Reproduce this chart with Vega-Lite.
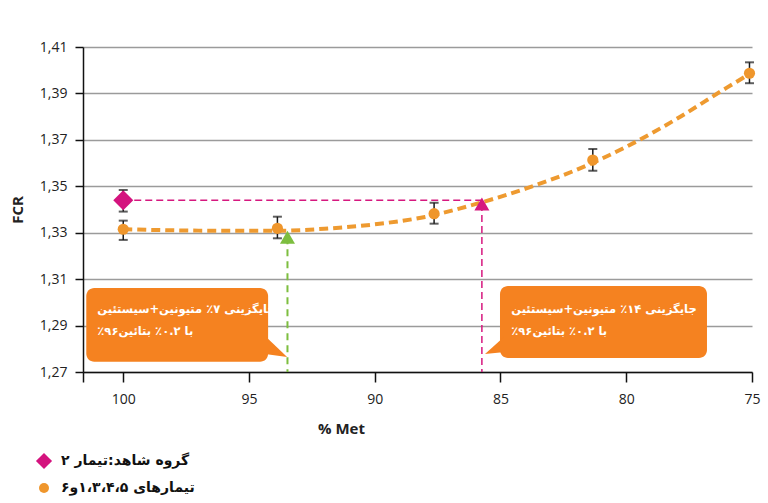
{
  "$schema": "https://vega.github.io/schema/vega-lite/v6.json",
  "width": 669,
  "height": 325,
  "autosize": "none",
  "padding": {"left": 83, "top": 47, "right": 16, "bottom": 131},
  "background": "white",
  "datasets": {
    "points": [
      {"met": 100, "fcr": 1.344, "lo": 1.3391, "hi": 1.3484, "group": "گروه شاهد:تیمار ۲"},
      {"met": 100, "fcr": 1.3315, "lo": 1.3269, "hi": 1.3352, "group": "تیمارهای ۱،۳،۴،۵و۶"},
      {"met": 93.87, "fcr": 1.3319, "lo": 1.3276, "hi": 1.3369, "group": "تیمارهای ۱،۳،۴،۵و۶"},
      {"met": 87.64, "fcr": 1.3382, "lo": 1.3339, "hi": 1.3429, "group": "تیمارهای ۱،۳،۴،۵و۶"},
      {"met": 81.33, "fcr": 1.3613, "lo": 1.3567, "hi": 1.3661, "group": "تیمارهای ۱،۳،۴،۵و۶"},
      {"met": 75.1, "fcr": 1.3987, "lo": 1.3944, "hi": 1.4034, "group": "تیمارهای ۱،۳،۴،۵و۶"}
    ],
    "trend": [
      {"met": 100, "fcr": 1.3315},
      {"met": 97, "fcr": 1.3309},
      {"met": 94, "fcr": 1.3308},
      {"met": 92, "fcr": 1.3317},
      {"met": 90, "fcr": 1.3336},
      {"met": 88, "fcr": 1.3368},
      {"met": 86, "fcr": 1.3423},
      {"met": 84, "fcr": 1.349},
      {"met": 82, "fcr": 1.357},
      {"met": 80, "fcr": 1.367},
      {"met": 78, "fcr": 1.379},
      {"met": 76, "fcr": 1.3925},
      {"met": 75, "fcr": 1.399}
    ],
    "guides": [
      {"line": "pink", "met": 100, "met2": 85.74, "fcr": 1.344, "fcr2": 1.344},
      {"line": "pink", "met": 85.74, "met2": 85.74, "fcr": 1.3424, "fcr2": 1.27},
      {"line": "green", "met": 93.47, "met2": 93.47, "fcr": 1.328, "fcr2": 1.27}
    ],
    "targets": [
      {"line": "green", "met": 93.47, "fcr": 1.328},
      {"line": "pink", "met": 85.74, "fcr": 1.3424}
    ],
    "boxes": [
      {"side": "left", "met": 101.47, "met2": 94.24, "fcr": 1.3062, "fcr2": 1.2744},
      {"side": "right", "met": 85.02, "met2": 76.79, "fcr": 1.3071, "fcr2": 1.276}
    ],
    "tails": [
      {"side": "left", "met": 94.24, "fcr": 1.2855},
      {"side": "right", "met": 84.94, "fcr": 1.2855}
    ],
    "notes": [
      {"met": 101.03, "fcr": 1.2967, "label": "جایگزینی ۷٪ متیونین+سیستئین"},
      {"met": 101.03, "fcr": 1.2874, "label": "با ۰.۲٪ بتائین۹۶٪‏"},
      {"met": 84.57, "fcr": 1.2967, "label": "جایگزینی ۱۴٪ متیونین+سیستئین"},
      {"met": 84.57, "fcr": 1.2874, "label": "با ۰.۲٪ بتائین۹۶٪‏"}
    ]
  },
  "encoding": {
    "x": {
      "field": "met",
      "type": "quantitative",
      "title": "% Met",
      "scale": {"domain": [75, 101.6], "reverse": true, "nice": false, "zero": false},
      "axis": {
        "values": [101.6, 100, 95, 90, 85, 80, 75],
        "labelExpr": "datum.value > 101 ? '' : datum.label",
        "grid": false,
        "labelFlush": false,
        "labelOverlap": false,
        "tickSize": 10,
        "labelPadding": 10,
        "titleX": 258,
        "titleY": 56,
        "titleAlign": "center",
        "titleBaseline": "middle"
      }
    },
    "y": {
      "field": "fcr",
      "type": "quantitative",
      "title": "FCR",
      "scale": {"domain": [1.27, 1.41], "nice": false, "zero": false},
      "axis": {
        "values": [1.27, 1.29, 1.31, 1.33, 1.35, 1.37, 1.39, 1.41],
        "labelExpr": "replace(format(datum.value, '.2f'), '.', ',')",
        "grid": true,
        "gridColor": "#9b9b9b",
        "gridWidth": 1.5,
        "tickSize": 8,
        "labelPadding": 8,
        "titlePadding": 14
      }
    }
  },
  "layer": [
    {
      "data": {"name": "trend"},
      "mark": {"type": "line", "color": "#EE9A30", "strokeWidth": 4, "strokeDash": [9, 5], "interpolate": "monotone"},
      "encoding": {"order": {"field": "met", "sort": "descending"}}
    },
    {
      "data": {"name": "guides"},
      "transform": [{"filter": "datum.line == 'pink'"}],
      "mark": {"type": "rule", "color": "#D6187F", "strokeWidth": 1.5, "strokeDash": [7, 4]},
      "encoding": {"x2": {"field": "met2"}, "y2": {"field": "fcr2"}}
    },
    {
      "data": {"name": "guides"},
      "transform": [{"filter": "datum.line == 'green'"}],
      "mark": {"type": "rule", "color": "#7DBE3F", "strokeWidth": 2, "strokeDash": [7, 5]},
      "encoding": {"x2": {"field": "met2"}, "y2": {"field": "fcr2"}}
    },
    {
      "data": {"name": "points"},
      "mark": {"type": "rule", "color": "#1a1a1a", "strokeWidth": 1.5},
      "encoding": {"y": {"field": "lo", "type": "quantitative"}, "y2": {"field": "hi"}}
    },
    {
      "data": {"name": "points"},
      "mark": {"type": "tick", "orient": "horizontal", "size": 9, "thickness": 2, "color": "#1a1a1a"},
      "encoding": {"y": {"field": "lo", "type": "quantitative"}}
    },
    {
      "data": {"name": "points"},
      "mark": {"type": "tick", "orient": "horizontal", "size": 9, "thickness": 2, "color": "#1a1a1a"},
      "encoding": {"y": {"field": "hi", "type": "quantitative"}}
    },
    {
      "data": {"name": "points"},
      "transform": [{"filter": "datum.group == 'گروه شاهد:تیمار ۲'"}],
      "mark": {"type": "point", "filled": true, "opacity": 1, "size": 400},
      "encoding": {
        "color": {
          "field": "group",
          "type": "nominal",
          "scale": {"domain": ["گروه شاهد:تیمار ۲", "تیمارهای ۱،۳،۴،۵و۶"], "range": ["#D4137E", "#EF962C"]},
          "legend": {
            "title": null,
            "orient": "none",
            "legendX": -46,
            "legendY": 407,
            "padding": 0,
            "rowPadding": 11,
            "labelOffset": 10,
            "labelFont": "DejaVu Sans",
            "labelFontWeight": "bold",
            "labelFontSize": 14,
            "labelColor": "#111111",
            "symbolStrokeWidth": 0,
            "symbolOpacity": 1,
            "encode": {"symbols": {"update": {"size": {"signal": "datum.index === 0 ? 260 : 100"}}}}
          }
        },
        "shape": {
          "field": "group",
          "type": "nominal",
          "scale": {"domain": ["گروه شاهد:تیمار ۲", "تیمارهای ۱،۳،۴،۵و۶"], "range": ["diamond", "circle"]}
        }
      }
    },
    {
      "data": {"name": "points"},
      "transform": [{"filter": "datum.group == 'تیمارهای ۱،۳،۴،۵و۶'"}],
      "mark": {"type": "point", "filled": true, "opacity": 1, "size": 125},
      "encoding": {
        "color": {"field": "group", "type": "nominal"},
        "shape": {"field": "group", "type": "nominal"}
      }
    },
    {
      "data": {"name": "targets"},
      "transform": [{"filter": "datum.line == 'green'"}],
      "mark": {"type": "point", "shape": "triangle-up", "filled": true, "opacity": 1, "size": 225, "color": "#7DBE3F"}
    },
    {
      "data": {"name": "targets"},
      "transform": [{"filter": "datum.line == 'pink'"}],
      "mark": {"type": "point", "shape": "triangle-up", "filled": true, "opacity": 1, "size": 225, "color": "#D6187F"}
    },
    {
      "data": {"name": "boxes"},
      "mark": {"type": "rect", "color": "#F58220", "cornerRadius": 8},
      "encoding": {"x2": {"field": "met2"}, "y2": {"field": "fcr2"}}
    },
    {
      "data": {"name": "tails"},
      "transform": [{"filter": "datum.side == 'left'"}],
      "mark": {"type": "point", "shape": "M -0.15 0 L 0.95 1.05 L -0.15 0.9 Z", "size": 1600, "filled": true, "opacity": 1, "strokeWidth": 0, "color": "#F58220"}
    },
    {
      "data": {"name": "tails"},
      "transform": [{"filter": "datum.side == 'right'"}],
      "mark": {"type": "point", "shape": "M 0.15 0 L -0.85 0.9 L 0.15 0.8 Z", "size": 1600, "filled": true, "opacity": 1, "strokeWidth": 0, "color": "#F58220"}
    },
    {
      "data": {"name": "notes"},
      "mark": {"type": "text", "align": "left", "baseline": "middle", "font": "DejaVu Sans", "fontWeight": "bold", "fontSize": 11.5, "color": "white"},
      "encoding": {"text": {"field": "label"}}
    }
  ],
  "config": {
    "view": {"stroke": null},
    "axis": {
      "labelFont": "Open Sans",
      "labelFontSize": 14,
      "labelColor": "#222222",
      "titleFont": "Open Sans",
      "titleFontSize": 15,
      "titleFontWeight": "bold",
      "titleColor": "#222222",
      "domainColor": "#111111",
      "domainWidth": 1.5,
      "tickColor": "#111111",
      "tickWidth": 1.5
    }
  }
}
